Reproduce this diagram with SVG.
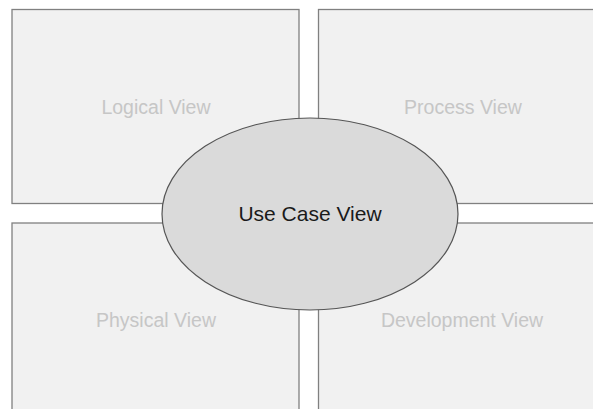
<svg xmlns="http://www.w3.org/2000/svg" width="593" height="409" viewBox="0 0 593 409">
<style>
.view{fill:#f1f1f1;stroke:#808080;stroke-width:1.3}
.vlabel{font-family:"Liberation Sans",Arial,sans-serif;font-size:19.5px;fill:#c6c6c6;text-anchor:middle;dominant-baseline:central}
.uc{fill:#dadada;stroke:#555;stroke-width:1.2}
.uclabel{font-family:"Liberation Sans",Arial,sans-serif;font-size:21px;fill:#1a1a1a;text-anchor:middle;dominant-baseline:central}
</style>
<rect width="593" height="409" fill="#ffffff"/>
<g id="logical-view">
<rect class="view" x="12" y="9.5" width="287" height="194"/>
<text class="vlabel" x="156" y="107">Logical View</text>
</g>
<g id="process-view">
<rect class="view" x="318.5" y="9.5" width="280" height="194"/>
<text class="vlabel" x="463" y="107">Process View</text>
</g>
<g id="physical-view">
<rect class="view" x="12" y="223" width="287" height="195"/>
<text class="vlabel" x="156" y="320">Physical View</text>
</g>
<g id="development-view">
<rect class="view" x="318.5" y="223" width="280" height="195"/>
<text class="vlabel" x="462" y="320">Development View</text>
</g>
<g id="connectors"></g>
<g id="use-case-view">
<ellipse class="uc" cx="310" cy="214" rx="148" ry="96"/>
<text class="uclabel" x="310" y="213">Use Case View</text>
</g>
</svg>
